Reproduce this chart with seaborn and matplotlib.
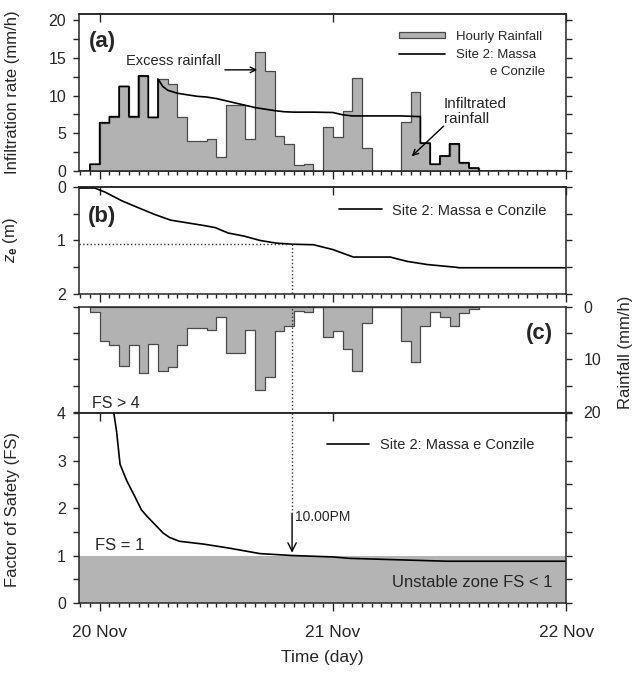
import numpy as np
import pandas as pd
import matplotlib
matplotlib.use("Agg")
import matplotlib.pyplot as plt
from matplotlib.ticker import MultipleLocator, FixedLocator, NullLocator
from matplotlib.patches import Patch
from matplotlib.lines import Line2D
import seaborn as sns

# ---------------------------------------------------------------------------
# Data (time in hours after 00:00 on 20 Nov)
# ---------------------------------------------------------------------------
rain_start_hour = -1
hourly_rainfall = [0.9, 6.4, 7.2, 11.2, 7.2, 12.6, 7.1, 12.2, 11.5, 7.2,
                   4.0, 4.0, 4.3, 1.9, 8.8, 8.7, 4.3, 15.8, 13.3, 4.6,
                   3.6, 0.8, 0.9, 0.0, 5.8, 4.5, 8.0, 12.3, 3.0, 0.0,
                   0.0, 0.0, 6.5, 10.5, 3.7, 0.9, 2.0, 3.6, 1.1, 0.4]

# infiltration capacity while rainfall exceeds it (Site 2: Massa e Conzile)
capacity_hours = [6, 6.5, 7, 8, 9, 10, 11, 12, 13, 14, 15, 16, 17, 18, 19,
                  20, 22, 24, 25, 26, 28, 31, 33]
capacity_rate = [12.2, 11.2, 10.7, 10.3, 10.1, 9.9, 9.8, 9.6, 9.3, 9.0, 8.7,
                 8.4, 8.2, 8.0, 7.85, 7.8, 7.8, 7.75, 7.45, 7.3, 7.3, 7.3, 7.2]
capacity_end = 33

# wetting front depth z_e (m)
ze_hours = [-2.1, -0.5, 0.6, 2.3, 4, 5.6, 7.3, 9, 10.7, 11.9, 13.2, 14.9,
            16.5, 18.2, 19.8, 22, 24, 26.1, 29.9, 31.6, 33.7, 36.6, 37, 48]
ze_depth = [0.02, 0.02, 0.1, 0.26, 0.39, 0.51, 0.62, 0.67, 0.72, 0.76, 0.86,
            0.92, 1.0, 1.05, 1.07, 1.08, 1.17, 1.31, 1.31, 1.39, 1.45, 1.5,
            1.51, 1.51]

# factor of safety
fs_hours = [1.3, 1.46, 1.75, 2.1, 2.8, 3.6, 4.3, 4.9, 5.7, 6.55, 7.2, 8.2,
            10.7, 13.2, 16.5, 19.8, 24, 25.7, 30.7, 35.7, 48]
fs_values = [4.6, 4.0, 3.6, 2.92, 2.57, 2.25, 1.96, 1.82, 1.65, 1.47, 1.38,
             1.3, 1.24, 1.16, 1.04, 1.0, 0.97, 0.94, 0.91, 0.88, 0.88]

failure_hour = 19.8
day_ticks = [0, 24, 48]
day_labels = ["20 Nov", "21 Nov", "22 Nov"]
x_range = (-2.1, 48)

# ---------------------------------------------------------------------------
sns.set_style("ticks")
plt.rcParams["font.family"] = ["Liberation Sans", "DejaVu Sans"]
plt.rcParams["mathtext.fontset"] = "custom"
plt.rcParams["mathtext.it"] = "Liberation Sans:italic"
plt.rcParams["mathtext.bf"] = "Liberation Sans:bold"
plt.rcParams["mathtext.rm"] = "Liberation Sans"
plt.rcParams["axes.linewidth"] = 1.1

BAR = "#b2b2b2"
EDGE = "#4a4a4a"
ZONE = "#b4b4b4"

fig = plt.figure(figsize=(6.39, 6.73), dpi=100)
L, W = 0.124, 0.762
ax_a = fig.add_axes([L, 0.7459, W, 0.2333])
ax_b = fig.add_axes([L, 0.5632, W, 0.1590])
ax_c = fig.add_axes([L, 0.3863, W, 0.1575])
ax_d = fig.add_axes([L, 0.1040, W, 0.2823])
axes = [ax_a, ax_b, ax_c, ax_d]

hours = np.arange(len(hourly_rainfall)) + rain_start_hour
rain_df = pd.DataFrame({"hour": hours + 0.5, "rain": hourly_rainfall})
bin_range = (rain_start_hour, rain_start_hour + len(hourly_rainfall))

# ---------------------------- (a) infiltration -----------------------------
sns.histplot(data=rain_df, x="hour", weights="rain", binwidth=1,
             binrange=bin_range, element="step", fill=True, color=BAR,
             edgecolor=EDGE, linewidth=0.9, alpha=1, ax=ax_a)


def rain_steps(h0, h1):
    xs, ys = [], []
    for h, r in zip(hours, hourly_rainfall):
        if h0 <= h < h1:
            xs += [h, h + 1]
            ys += [r, r]
    return xs, ys


pre_x, pre_y = rain_steps(rain_start_hour, capacity_hours[0])
post_x, post_y = rain_steps(capacity_end, 48)
last_hour = int(hours[-1]) + 1
inf_x = [x_range[0], rain_start_hour] + pre_x + capacity_hours + post_x + [last_hour, 48]
inf_y = [0, 0] + pre_y + capacity_rate + post_y + [0, 0]
sns.lineplot(x=inf_x, y=inf_y, sort=False, estimator=None, color="black",
             linewidth=1.2, ax=ax_a)

ax_a.set_ylim(0, 20.8)
ax_a.yaxis.set_major_locator(MultipleLocator(5))
ax_a.yaxis.set_minor_locator(MultipleLocator(2.5))
ax_a.set_ylabel("Infiltration rate (mm/h)", fontsize=12)
ax_a.yaxis.set_label_coords(-0.122, 0.5)
ax_a.text(-1.1, 17.1, "(a)", fontsize=16, fontweight="bold", va="center")
ax_a.text(12.5, 14.6, "Excess rainfall", fontsize=10.5, ha="right", va="center")
ax_a.annotate("", xy=(16.5, 13.4), xytext=(12.6, 13.4),
              arrowprops=dict(arrowstyle="->", color="black", lw=1))
ax_a.text(35.4, 7.9, "Infiltrated\nrainfall", fontsize=11, ha="left",
          va="center", linespacing=1.05)
ax_a.annotate("", xy=(31.9, 1.7), xytext=(35.6, 6.2),
              arrowprops=dict(arrowstyle="->", color="black", lw=1))
ax_a.legend(
    handles=[Patch(facecolor=BAR, edgecolor=EDGE, linewidth=0.9),
             Line2D([], [], color="black", linewidth=1.2)],
    labels=["Hourly Rainfall", "Site 2: Massa"],
    loc="upper left", bbox_to_anchor=(0.657, 0.893), frameon=False,
    fontsize=9.5, handlelength=3.5, handleheight=0.35, handletextpad=0.8,
    labelspacing=0.45, borderpad=0, borderaxespad=0)
ax_a.text(45.8, 13.1, "e Conzile", fontsize=9.5, ha="right", va="center")

# ---------------------------- (b) wetting front ----------------------------
sns.lineplot(x=ze_hours, y=ze_depth, sort=False, estimator=None,
             color="black", linewidth=1.2, ax=ax_b,
             label="Site 2: Massa e Conzile")
ze_fail = float(np.interp(failure_hour, ze_hours, ze_depth))
ax_b.plot([x_range[0], failure_hour], [ze_fail, ze_fail], ls=":",
          color="#333333", lw=1)
ax_b.plot([failure_hour, failure_hour], [ze_fail, 2], ls=":",
          color="#333333", lw=1)
ax_b.set_ylim(2, 0)
ax_b.yaxis.set_major_locator(MultipleLocator(1))
ax_b.yaxis.set_minor_locator(MultipleLocator(0.5))
ax_b.set_ylabel(r"$z_{\mathbf{e}}$ (m)", fontsize=12)
ax_b.yaxis.set_label_coords(-0.122, 0.5)
ax_b.text(-1.2, 0.55, "(b)", fontsize=16, fontweight="bold", va="center")
ax_b.legend(loc="center left", bbox_to_anchor=(0.534, 0.78), frameon=False,
            fontsize=10.5, handlelength=2.9, handletextpad=0.7,
            borderpad=0, borderaxespad=0)

# ---------------------------- (c) rainfall ---------------------------------
sns.histplot(data=rain_df, x="hour", weights="rain", binwidth=1,
             binrange=bin_range, element="step", fill=True, color=BAR,
             edgecolor=EDGE, linewidth=0.9, alpha=1, ax=ax_c)
ax_c.axvline(failure_hour, ls=":", color="#333333", lw=1)
ax_c.set_ylim(20.25, 0)
ax_c.yaxis.set_major_locator(MultipleLocator(10))
ax_c.yaxis.set_minor_locator(MultipleLocator(5))
ax_c.yaxis.set_label_position("right")
ax_c.set_ylabel("Rainfall (mm/h)", fontsize=12, rotation=90)
ax_c.yaxis.set_label_coords(1.106, 0.57)
ax_c.text(46.6, 5.0, "(c)", fontsize=16, fontweight="bold", ha="right",
          va="center")
ax_c.text(-0.8, 18.4, "FS > 4", fontsize=11.5, ha="left", va="center")

# ---------------------------- (d) factor of safety -------------------------
ax_d.axhspan(0, 1, color=ZONE, zorder=0, lw=0)
sns.lineplot(x=fs_hours, y=fs_values, sort=False, estimator=None,
             color="black", linewidth=1.2, ax=ax_d,
             label="Site 2: Massa e Conzile")
fs_fail = float(np.interp(failure_hour, fs_hours, fs_values))
ax_d.plot([failure_hour, failure_hour], [4, 1.95], ls=":", color="#333333",
          lw=1)
ax_d.annotate("", xy=(failure_hour, fs_fail), xytext=(failure_hour, 1.95),
              arrowprops=dict(arrowstyle="->,head_length=0.6,head_width=0.3",
                              color="black", lw=1))
ax_d.text(failure_hour + 0.3, 1.82, "10.00PM", fontsize=10, ha="left",
          va="center")
ax_d.text(-0.5, 1.22, "FS = 1", fontsize=12, ha="left", va="center")
ax_d.text(46.6, 0.44, "Unstable zone FS < 1", fontsize=12, ha="right",
          va="center")
ax_d.set_ylim(0, 4)
ax_d.yaxis.set_major_locator(MultipleLocator(1))
ax_d.yaxis.set_minor_locator(MultipleLocator(0.5))
ax_d.set_ylabel("Factor of Safety (FS)", fontsize=12)
ax_d.yaxis.set_label_coords(-0.122, 0.49)
ax_d.legend(loc="center left", bbox_to_anchor=(0.509, 0.833), frameon=False,
            fontsize=10.5, handlelength=2.9, handletextpad=0.7,
            borderpad=0, borderaxespad=0)
ax_d.set_xlabel("Time (day)", fontsize=12.5)
ax_d.xaxis.set_label_coords(0.5, -0.245)

# ---------------------------- shared axis styling --------------------------
for ax in axes:
    ax.set_xlim(*x_range)
    ax.xaxis.set_major_locator(FixedLocator(day_ticks))
    ax.xaxis.set_minor_locator(MultipleLocator(1))
    ax.tick_params(axis="x", which="major", direction="out", length=6,
                   width=1, top=False, labelbottom=False)
    ax.tick_params(axis="x", which="minor", direction="out", length=3,
                   width=1, top=False)
    ax.tick_params(axis="y", which="both", direction="out", length=4.5,
                   width=1, left=True, right=True, labelsize=11.5, pad=5)
    for s in ax.spines.values():
        s.set_visible(True)
        s.set_linewidth(1.1)
    if ax is not ax_d:
        ax.set_xlabel("")

for ax in [ax_a, ax_b, ax_d]:
    top = ax.secondary_xaxis("top")
    top.xaxis.set_major_locator(FixedLocator(day_ticks))
    top.xaxis.set_minor_locator(NullLocator())
    top.tick_params(axis="x", direction="in", length=6, width=1,
                    labeltop=False)

ax_c.tick_params(axis="x", which="both", bottom=False, labelbottom=False)
ax_c.tick_params(axis="y", which="both", labelleft=False, labelright=True,
                 pad=8)

ax_d.set_xticks(day_ticks)
ax_d.set_xticklabels(day_labels)
ax_d.tick_params(axis="x", which="major", labelbottom=True, labelsize=12.5,
                 pad=10)

fig.savefig("out.png", dpi=100)
